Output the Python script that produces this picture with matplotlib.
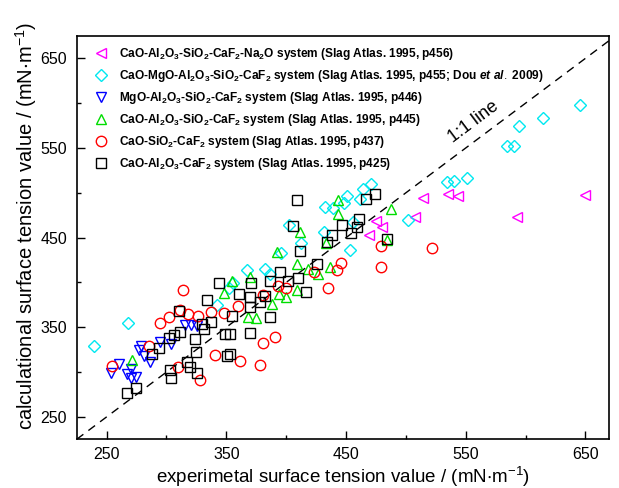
import matplotlib
matplotlib.use("Agg")
import matplotlib.pyplot as plt
from matplotlib.lines import Line2D

plt.rcParams['font.family'] = ['Liberation Sans', 'DejaVu Sans']
plt.rcParams['mathtext.fontset'] = 'custom'
plt.rcParams['mathtext.rm'] = 'Liberation Sans'
plt.rcParams['mathtext.bf'] = 'Liberation Sans:bold'
plt.rcParams['mathtext.it'] = 'Liberation Sans:bold:italic'
plt.rcParams['mathtext.default'] = 'regular'

# ---------------- data ----------------
na2o_x = [469, 475, 480, 508, 514, 535.5, 544, 592.5, 650]
na2o_y = [452.5, 469, 461.6, 473, 494.5, 499, 496, 473.5, 498]

mgo_x = [239.5, 268, 342, 352, 356, 367.5, 382, 386.5, 395.5, 402, 412, 432, 432.5, 439,
         448.6, 450.6, 453.3, 455.6, 461.7, 464, 470.7, 502, 534, 540.5, 551, 584.4,
         590.8, 594.4, 615, 645.6]
mgo_y = [329, 354.5, 375, 393.5, 399, 414, 415.5, 409.8, 432.5, 464, 444.4, 456.7, 484.5,
         482.8, 488.4, 496, 436, 468, 493, 504, 509.7, 469.8, 511.7, 513, 516.5, 552.5,
         552.5, 574.8, 583.4, 598.3]

mas_x = [253.3, 260.5, 266.7, 270.5, 270, 274.5, 277, 279, 281, 286, 295, 303.5, 315.5,
         320.5, 325.5]
mas_y = [299, 308.5, 298, 303.5, 293.6, 294.7, 324.5, 329, 317.8, 311, 333.8, 331.5, 352.5,
         352, 351.5]

cas_x = [270.8, 347.8, 354.7, 368, 370, 374.7, 388.5, 392, 394, 400, 409.4, 409.4, 411.5,
         418.5, 427, 433.3, 436.7, 443.6, 443.6, 484, 488]
cas_y = [313.4, 388, 401.7, 361, 406.4, 360, 375.5, 433.7, 387.5, 383.5, 392, 421, 456.5,
         415, 410, 444.4, 417.6, 476.5, 491.5, 447.4, 481.7]

cs_x = [254.2, 285.5, 294.2, 302.3, 309.7, 310.9, 313.9, 318.3, 326, 328, 337, 340.2, 347.8,
        359.9, 361.7, 378, 381, 381, 390.8, 393.6, 400.3, 423.5, 434.9, 442.6, 446, 479.5,
        479.2, 522]
cs_y = [306.3, 329, 355, 361.3, 305.9, 369.5, 391.6, 364.6, 362.7, 291, 367, 318.6, 366,
        373.3, 312.6, 308, 332, 386, 338.7, 396.2, 394, 411.7, 394.2, 413.5, 421.4, 440.7,
        417, 438.2]

ca_x = [266.7, 274.8, 288, 293.6, 302, 306, 311, 303.3, 303.6, 310.2, 317, 320, 325.6, 324.2,
        325, 329.7, 331, 334, 337.2, 343.6, 349, 353, 350.6, 353, 354.8, 360.3, 370, 370, 370,
        370.4, 378, 382, 386.7, 386.7, 395, 401.5, 406, 409.4, 409.7, 411.5, 416.5, 425.6,
        434, 438.5, 446.9, 454, 458.9, 461, 467, 474.2, 484]
ca_y = [276.8, 281.7, 320, 326.4, 337.6, 341, 345, 302.2, 292.9, 368, 311, 305.2, 298.5, 336.5,
        322.6, 353.6, 347.7, 380, 355.5, 399.5, 343, 343, 317.5, 320.5, 362.5, 387, 384, 373,
        344, 399, 378.5, 385, 401.6, 361.7, 412, 401.5, 463, 492.5, 404.6, 435.5, 389, 420.5,
        445.5, 452.8, 464.2, 455.6, 462.3, 470.5, 493.2, 498.5, 448]

labels = [
    r"CaO-Al$_\mathbf{2}$O$_\mathbf{3}$-SiO$_\mathbf{2}$-CaF$_\mathbf{2}$-Na$_\mathbf{2}$O system (Slag Atlas. 1995, p456)",
    r"CaO-MgO-Al$_\mathbf{2}$O$_\mathbf{3}$-SiO$_\mathbf{2}$-CaF$_\mathbf{2}$ system (Slag Atlas. 1995, p455; Dou $\mathit{et\ al.}$ 2009)",
    r"MgO-Al$_\mathbf{2}$O$_\mathbf{3}$-SiO$_\mathbf{2}$-CaF$_\mathbf{2}$ system (Slag Atlas. 1995, p446)",
    r"CaO-Al$_\mathbf{2}$O$_\mathbf{3}$-SiO$_\mathbf{2}$-CaF$_\mathbf{2}$ system (Slag Atlas. 1995, p445)",
    r"CaO-SiO$_\mathbf{2}$-CaF$_\mathbf{2}$ system (Slag Atlas. 1995, p437)",
    r"CaO-Al$_\mathbf{2}$O$_\mathbf{3}$-CaF$_\mathbf{2}$ system (Slag Atlas. 1995, p425)",
]

xticks = [250, 350, 450, 550, 650]
yticks = [250, 350, 450, 550, 650]

# ---------------- figure ----------------
fig = plt.figure(figsize=(6.19, 4.88), dpi=100)
ax = fig.add_axes([0.1239, 0.0998, 0.8604, 0.8264])
ax.set_xlim(225, 670)
ax.set_ylim(225, 675)

series = [
    (na2o_x, na2o_y, '<', '#ff00ff', 7.5),
    (mgo_x, mgo_y, 'D', '#00e8f0', 6.0),
    (mas_x, mas_y, 'v', '#0000ff', 7.5),
    (cas_x, cas_y, '^', '#00dd00', 7.5),
    (cs_x, cs_y, 'o', '#ff0000', 7.5),
    (ca_x, ca_y, 's', '#000000', 6.5),
]

ax.plot([225, 675], [225, 675], color='black', lw=1.0, linestyle=(0, (6, 4.5)), zorder=1)

handles = []
for (xs, ys, m, c, ms), lab in zip(series, labels):
    ax.plot(xs, ys, linestyle='none', marker=m, markersize=ms, markerfacecolor='none',
            markeredgecolor=c, markeredgewidth=1.0, zorder=3)
    handles.append(Line2D([], [], linestyle='none', marker=m, markersize=ms,
                          markerfacecolor='none', markeredgecolor=c, markeredgewidth=1.0))

leg = ax.legend(handles, labels, loc='upper left', bbox_to_anchor=(0.033, 0.974),
                frameon=False, borderpad=0, borderaxespad=0, handlelength=1.2,
                handletextpad=0.9, labelspacing=0.5, numpoints=1,
                prop={'size': 8.6, 'weight': 'bold'})

ax.text(556.5, 579, "1:1 line", rotation=45, transform_rotates_text=True,
        rotation_mode='anchor', ha='center', va='center', fontsize=13)

ax.set_xticks(xticks)
ax.set_yticks(yticks)
ax.set_xticks([300, 400, 500, 600], minor=True)
ax.set_yticks([300, 400, 500, 600], minor=True)
ax.tick_params(which='both', direction='in', top=False, right=False, labelsize=11.5)
ax.tick_params(which='major', length=5.5, width=1.0)
ax.tick_params(which='minor', length=3.0, width=1.0)
ax.tick_params(axis='x', pad=5.2)
ax.tick_params(axis='y', pad=7)
for s in ax.spines.values():
    s.set_linewidth(1.2)

ax.set_xlabel(r"experimetal surface tension value / (mN$\cdot$m$^{-1}$)", fontsize=13.5)
ax.set_ylabel(r"calculational surface tension value / (mN$\cdot$m$^{-1}$)", fontsize=14.5)
ax.xaxis.set_label_coords(0.5, -0.0632)
ax.yaxis.set_label_coords(-0.07, 0.53)

fig.savefig("out.png", dpi=100)
